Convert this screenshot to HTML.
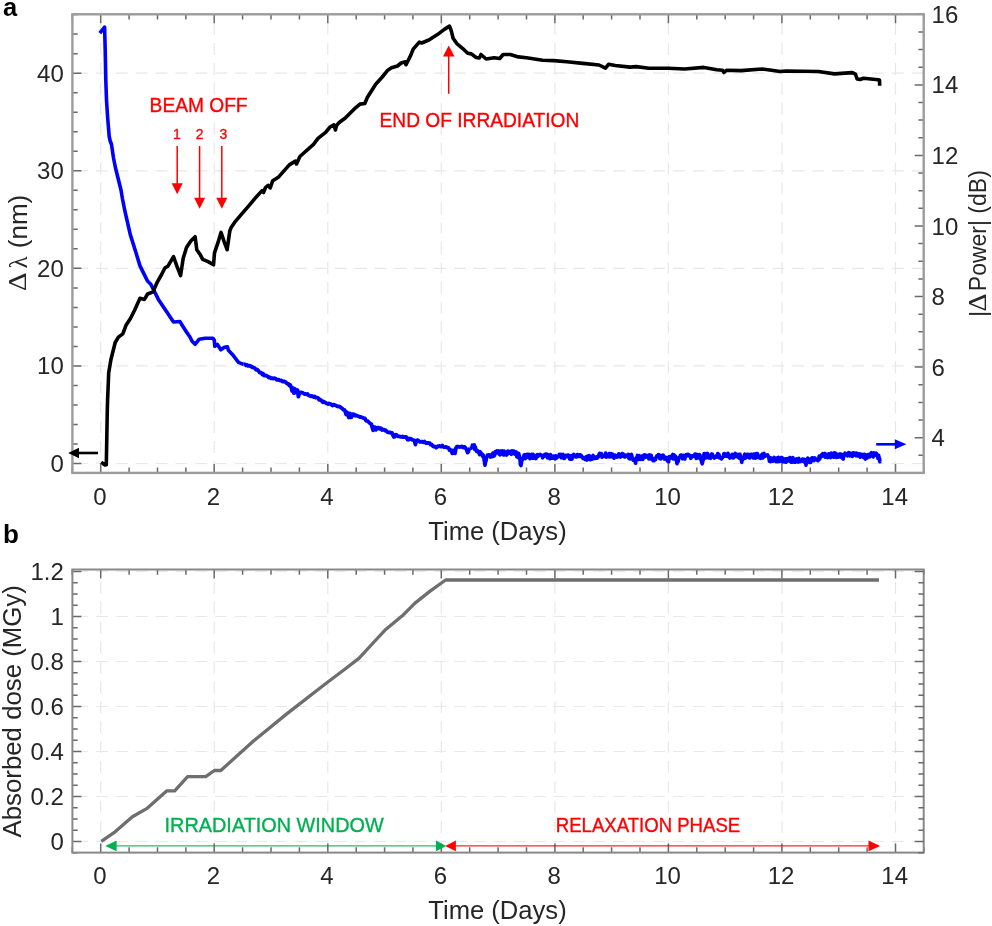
<!DOCTYPE html>
<html><head><meta charset="utf-8"><title>Figure</title>
<style>html,body{margin:0;padding:0;background:#fff;}svg{display:block;}</style>
</head><body>
<svg width="992" height="926" viewBox="0 0 992 926">
<rect width="992" height="926" fill="#fff"/>
<line x1="100.7" y1="472.9" x2="100.7" y2="14.3" stroke="#e8e8e8" stroke-width="1.2" stroke-dasharray="12 7.9"/>
<line x1="214.2" y1="472.9" x2="214.2" y2="14.3" stroke="#e8e8e8" stroke-width="1.2" stroke-dasharray="12 7.9"/>
<line x1="327.8" y1="472.9" x2="327.8" y2="14.3" stroke="#e8e8e8" stroke-width="1.2" stroke-dasharray="12 7.9"/>
<line x1="441.3" y1="472.9" x2="441.3" y2="14.3" stroke="#e8e8e8" stroke-width="1.2" stroke-dasharray="12 7.9"/>
<line x1="554.9" y1="472.9" x2="554.9" y2="14.3" stroke="#e8e8e8" stroke-width="1.2" stroke-dasharray="12 7.9"/>
<line x1="668.4" y1="472.9" x2="668.4" y2="14.3" stroke="#e8e8e8" stroke-width="1.2" stroke-dasharray="12 7.9"/>
<line x1="781.9" y1="472.9" x2="781.9" y2="14.3" stroke="#e8e8e8" stroke-width="1.2" stroke-dasharray="12 7.9"/>
<line x1="895.5" y1="472.9" x2="895.5" y2="14.3" stroke="#e8e8e8" stroke-width="1.2" stroke-dasharray="12 7.9"/>
<line x1="923.7" y1="463.5" x2="72.4" y2="463.5" stroke="#e8e8e8" stroke-width="1.2" stroke-dasharray="12 7.9"/>
<line x1="923.7" y1="365.9" x2="72.4" y2="365.9" stroke="#e8e8e8" stroke-width="1.2" stroke-dasharray="12 7.9"/>
<line x1="923.7" y1="268.3" x2="72.4" y2="268.3" stroke="#e8e8e8" stroke-width="1.2" stroke-dasharray="12 7.9"/>
<line x1="923.7" y1="170.8" x2="72.4" y2="170.8" stroke="#e8e8e8" stroke-width="1.2" stroke-dasharray="12 7.9"/>
<line x1="923.7" y1="73.2" x2="72.4" y2="73.2" stroke="#e8e8e8" stroke-width="1.2" stroke-dasharray="12 7.9"/>
<line x1="100.7" y1="852.6" x2="100.7" y2="569.5" stroke="#e8e8e8" stroke-width="1.2" stroke-dasharray="12 7.9"/>
<line x1="214.2" y1="852.6" x2="214.2" y2="569.5" stroke="#e8e8e8" stroke-width="1.2" stroke-dasharray="12 7.9"/>
<line x1="327.8" y1="852.6" x2="327.8" y2="569.5" stroke="#e8e8e8" stroke-width="1.2" stroke-dasharray="12 7.9"/>
<line x1="441.3" y1="852.6" x2="441.3" y2="569.5" stroke="#e8e8e8" stroke-width="1.2" stroke-dasharray="12 7.9"/>
<line x1="554.9" y1="852.6" x2="554.9" y2="569.5" stroke="#e8e8e8" stroke-width="1.2" stroke-dasharray="12 7.9"/>
<line x1="668.4" y1="852.6" x2="668.4" y2="569.5" stroke="#e8e8e8" stroke-width="1.2" stroke-dasharray="12 7.9"/>
<line x1="781.9" y1="852.6" x2="781.9" y2="569.5" stroke="#e8e8e8" stroke-width="1.2" stroke-dasharray="12 7.9"/>
<line x1="895.5" y1="852.6" x2="895.5" y2="569.5" stroke="#e8e8e8" stroke-width="1.2" stroke-dasharray="12 7.9"/>
<line x1="923.7" y1="841.5" x2="72.4" y2="841.5" stroke="#e8e8e8" stroke-width="1.2" stroke-dasharray="12 7.9"/>
<line x1="923.7" y1="796.5" x2="72.4" y2="796.5" stroke="#e8e8e8" stroke-width="1.2" stroke-dasharray="12 7.9"/>
<line x1="923.7" y1="751.5" x2="72.4" y2="751.5" stroke="#e8e8e8" stroke-width="1.2" stroke-dasharray="12 7.9"/>
<line x1="923.7" y1="706.5" x2="72.4" y2="706.5" stroke="#e8e8e8" stroke-width="1.2" stroke-dasharray="12 7.9"/>
<line x1="923.7" y1="661.5" x2="72.4" y2="661.5" stroke="#e8e8e8" stroke-width="1.2" stroke-dasharray="12 7.9"/>
<line x1="923.7" y1="616.5" x2="72.4" y2="616.5" stroke="#e8e8e8" stroke-width="1.2" stroke-dasharray="12 7.9"/>
<line x1="923.7" y1="571.5" x2="72.4" y2="571.5" stroke="#e8e8e8" stroke-width="1.2" stroke-dasharray="12 7.9"/>
<polyline points="99.8,33.2 104.6,27.2 105.2,50.0 105.8,80.0 106.5,100.0 107.6,117.0 109.2,136.5 110.2,141.0 111.5,144.5 113.5,158.0 115.5,168.0 118.5,180.0 121.0,190.0 122.5,199.0 124.9,211.0 130.3,234.6 135.7,251.8 140.0,265.9 143.7,273.4 147.5,281.0 150.8,284.2 153.0,288.6 158.4,299.4 167.0,312.3 173.5,322.0 180.0,321.5 182.0,325.1 186.0,331.2 190.1,337.2 192.1,341.3 195.1,344.3 199.2,339.2 205.2,338.2 212.8,338.2 214.3,340.2 214.8,346.3 217.3,344.3 220.8,349.8 224.4,347.3 227.4,346.8 228.4,350.3 232.4,354.4 238.5,362.4 243.5,364.4" fill="none" stroke="#0000ff" stroke-width="3.6" stroke-linejoin="round"/>
<polyline points="243.5,364.4 244.4,364.4 245.3,364.4 246.2,365.4 247.1,364.9 248.0,365.8 248.9,365.8 249.8,365.6 250.7,366.6 251.6,366.4 252.5,367.4 253.4,367.3 254.3,367.8 255.2,368.7 256.1,369.7 257.0,369.3 257.9,370.1 258.8,371.3 259.7,372.5 260.6,372.6 261.5,373.0 262.4,374.5 263.3,373.8 264.2,375.6 265.1,375.4 266.0,375.5 266.9,375.9 267.8,376.5 268.7,377.6 269.6,377.1 270.5,378.0 271.4,378.4 272.3,378.2 273.2,378.7 274.1,378.2 275.0,378.4 275.9,378.9 276.8,379.8 277.7,379.6 278.6,379.7 279.5,380.3 280.4,380.4 281.3,380.4 282.2,381.4 283.1,381.6 284.0,381.2 284.9,382.0 285.8,382.2 286.7,383.3 287.6,383.8 288.5,383.9 289.4,385.6 290.3,385.0 291.2,387.4 292.1,391.1 293.0,388.0 293.9,393.2 294.8,388.8 295.7,392.5 296.6,392.0 297.5,390.1 298.4,396.7 299.3,393.8 300.2,392.3 301.1,392.4 302.0,392.7 302.9,392.9 303.8,393.7 304.7,394.2 305.6,393.9 306.5,394.4 307.4,393.9 308.3,395.1 309.2,395.4 310.1,396.2 311.0,396.3 311.9,395.8 312.8,396.3 313.7,397.1 314.6,396.5 315.5,397.5 316.4,397.4 317.3,397.7 318.2,398.2 319.1,399.8 320.0,399.5 320.9,400.2 321.8,401.0 322.7,402.2 323.6,401.4 324.5,402.2 325.4,402.6 326.3,403.4 327.2,403.6 328.1,404.0 329.0,403.5 329.9,403.9 330.8,404.1 331.7,405.1 332.6,405.5 333.5,404.6 334.4,404.9 335.3,405.3 336.2,405.5 337.1,406.2 338.0,406.6 338.9,406.5 339.8,406.6 340.7,407.6 341.6,408.0 342.5,408.7 343.4,409.7 344.3,409.8 345.2,411.4 346.1,414.5 347.0,412.2 347.9,414.2 348.8,417.5 349.7,413.4 350.6,417.3 351.5,417.2 352.4,414.1 353.3,414.5 354.2,414.5 355.1,415.7 356.0,415.3 356.9,415.7 357.8,416.2 358.7,416.4 359.6,417.0 360.5,416.9 361.4,417.1 362.3,417.6 363.2,417.8 364.1,418.5 365.0,418.5 365.9,420.5 366.8,420.9 367.7,421.1 368.6,422.0 369.5,422.9 370.4,423.7 371.3,424.1 372.2,427.1 373.1,430.3 374.0,427.2 374.9,427.2 375.8,429.9 376.7,428.6 377.6,427.6 378.5,427.7 379.4,428.8 380.3,428.2 381.2,428.4 382.1,430.0 383.0,429.8 383.9,429.6 384.8,430.5 385.7,430.2 386.6,431.2 387.5,432.2 388.4,432.4 389.3,432.5 390.2,432.3 391.1,432.9 392.0,433.0 392.9,435.1 393.8,437.0 394.7,436.7 395.6,434.7 396.5,434.8 397.4,435.9 398.3,436.4 399.2,436.4 400.1,436.6 401.0,436.8 401.9,437.0 402.8,436.5 403.7,437.1 404.6,437.1 405.5,436.8 406.4,437.1 407.3,439.4 408.2,439.8 409.1,438.6 410.0,439.2 410.9,438.6 411.8,439.6 412.7,439.9 413.6,440.1 414.5,440.8 415.4,444.6 416.3,441.1 417.2,440.1 418.1,440.4 419.0,441.3 419.9,441.8 420.8,441.9 421.7,441.6 422.6,442.0 423.5,442.3 424.4,441.5 425.3,442.5 426.2,443.0 427.1,442.9 428.0,443.1 428.9,443.0 429.8,443.2 430.7,444.6 431.6,444.5 432.5,445.7 433.4,446.5 434.3,446.3 435.2,446.9 436.1,447.7 437.0,447.2 437.9,446.2 438.8,446.0 439.7,445.8 440.6,446.7 441.5,446.4 442.4,445.6 443.3,446.8 444.2,447.2 445.1,447.0 446.0,446.8 446.9,447.5 447.8,447.6 448.7,448.2 449.6,450.3 450.5,450.5 451.4,450.3 452.3,453.4 453.2,450.5 454.1,450.2 455.0,453.4 455.9,448.3 456.8,446.7 457.7,446.7 458.6,446.6 459.5,447.1 460.4,446.7 461.3,446.9 462.2,446.5 463.1,447.6 464.0,446.8 464.9,447.1 465.8,448.3 466.7,450.0 467.6,452.6 468.5,451.6 467.8,450.4 470.0,448.5" fill="none" stroke="#0000ff" stroke-width="3.8" stroke-linejoin="round"/>
<polyline points="470.0,448.5 470.6,448.3 471.2,448.2 471.8,447.9 472.4,445.2 473.0,447.1 473.6,445.6 474.2,444.8 474.8,449.5 475.4,447.1 476.0,449.4 476.6,451.4 477.2,451.3 477.8,450.9 478.4,452.4 479.0,453.0 479.6,454.6 480.2,451.7 480.8,454.4 481.4,453.3 482.0,453.9 482.6,456.4 483.2,455.0 483.8,458.0 484.4,461.7 485.0,465.2 485.6,461.9 486.2,460.1 486.8,456.8 487.4,455.1 488.0,456.0 488.6,454.8 489.2,455.2 489.8,454.9 490.4,457.1 491.0,455.7 491.6,456.4 492.2,456.6 492.8,453.0 493.4,454.3 494.0,456.1 494.6,455.4 495.2,451.7 495.8,451.5 496.4,452.9 497.0,450.9 497.6,451.7 498.2,450.8 498.8,453.7 499.4,454.3 500.0,454.8 500.6,451.0 501.2,453.8 501.8,453.5 502.4,450.9 503.0,454.5 503.6,454.9 504.2,451.1 504.8,454.8 505.4,452.0 506.0,452.5 506.6,455.1 507.2,454.4 507.8,451.1 508.4,452.5 509.0,453.0 509.6,452.2 510.2,451.5 510.8,452.2 511.4,454.3 512.0,450.8 512.6,453.5 513.2,453.0 513.8,451.0 514.4,452.6 515.0,454.1 515.6,453.9 516.2,451.9 516.8,456.8 517.4,456.1 518.0,457.4 518.6,453.2 519.2,455.2 519.8,457.5 520.4,464.6 521.0,465.5 521.6,461.6 522.2,459.9 522.8,459.2 523.4,457.8 524.0,455.1 524.6,454.7 525.2,458.6 525.8,456.9 526.4,457.5 527.0,454.4 527.6,454.3 528.2,457.4 528.8,456.1 529.4,454.4 530.0,458.7 530.6,457.2 531.2,458.0 531.8,454.4 532.4,458.3 533.0,454.3 533.6,458.3 534.2,456.3 534.8,455.7 535.4,456.8 536.0,458.6 536.6,455.3 537.2,454.6 537.8,456.6 538.4,455.2 539.0,454.5 539.6,454.8 540.2,454.3 540.8,455.0 541.4,455.6 542.0,455.5 542.6,457.8 543.2,455.4 543.8,456.5 544.4,454.9 545.0,455.7 545.6,454.1 546.2,455.3 546.8,454.1 547.4,457.7 548.0,456.8 548.6,454.9 549.2,456.4 549.8,458.7 550.4,454.5 551.0,458.1 551.6,456.2 552.2,456.5 552.8,458.2 553.4,456.0 554.0,456.5 554.6,457.4 555.2,458.9 555.8,455.7 556.4,458.2 557.0,457.5 557.6,457.2 558.2,456.0 558.8,455.7 559.4,454.3 560.0,454.6 560.6,454.4 561.2,457.7 561.8,455.3 562.4,454.9 563.0,454.5 563.6,458.3 564.2,458.5 564.8,457.5 565.4,455.5 566.0,455.4 566.6,455.6 567.2,456.5 567.8,455.0 568.4,456.4 569.0,455.5 569.6,459.0 570.2,459.1 570.8,457.0 571.4,455.5 572.0,459.1 572.6,455.9 573.2,456.1 573.8,454.4 574.4,456.3 575.0,456.7 575.6,456.9 576.2,455.4 576.8,456.9 577.4,454.5 578.0,455.8 578.6,454.9 579.2,456.5 579.8,454.7 580.4,454.7 581.0,456.1 581.6,455.8 582.2,457.6 582.8,457.4 583.4,458.6 584.0,458.2 584.6,458.5 585.2,459.4 585.8,457.0 586.4,456.8 587.0,460.1 587.6,456.0 588.2,458.9 588.8,458.6 589.4,455.7 590.0,459.7 590.6,459.8 591.2,458.3 591.8,458.7 592.4,459.0 593.0,455.4 593.6,457.2 594.2,457.0 594.8,458.5 595.4,458.2 596.0,458.1 596.6,456.8 597.2,458.2 597.8,457.0 598.4,456.9 599.0,454.4 599.6,453.3 600.2,453.7 600.8,454.8 601.4,453.6 602.0,457.2 602.6,455.8 603.2,456.2 603.8,456.2 604.4,456.5 605.0,455.5 605.6,453.1 606.2,457.1 606.8,456.9 607.4,455.7 608.0,455.8 608.6,456.5 609.2,453.5 609.8,456.9 610.4,454.5 611.0,453.6 611.6,454.6 612.2,456.9 612.8,454.3 613.4,457.0 614.0,458.2 614.6,455.8 615.2,455.2 615.8,455.7 616.4,456.7 617.0,457.2 617.6,456.4 618.2,456.6 618.8,453.8 619.4,454.1 620.0,454.7 620.6,457.1 621.2,454.9 621.8,456.3 622.4,453.5 623.0,453.8 623.6,454.8 624.2,456.8 624.8,457.0 625.4,456.9 626.0,455.1 626.6,456.2 627.2,456.0 627.8,456.1 628.4,454.4 629.0,458.4 629.6,455.0 630.2,458.9 630.8,458.8 631.4,454.2 632.0,456.5 632.6,458.4 633.2,460.1 633.8,459.3 634.4,460.3 635.0,461.2 635.6,463.2 636.2,457.8 636.8,457.9 637.4,455.4 638.0,457.4 638.6,459.6 639.2,455.6 639.8,459.1 640.4,457.5 641.0,459.4 641.6,458.5 642.2,456.1 642.8,459.4 643.4,457.3 644.0,455.0 644.6,454.9 645.2,457.3 645.8,457.1 646.4,456.3 647.0,455.5 647.6,456.5 648.2,456.3 648.8,458.9 649.4,454.7 650.0,458.4 650.6,458.8 651.2,455.2 651.8,459.2 652.4,458.1 653.0,460.7 653.6,459.6 654.2,460.7 654.8,458.8 655.4,459.8 656.0,457.4 656.6,456.2 657.2,456.5 657.8,455.8 658.4,454.6 659.0,454.8 659.6,458.5 660.2,455.7 660.8,459.0 661.4,455.5 662.0,455.6 662.6,456.9 663.2,455.2 663.8,456.2 664.4,459.1 665.0,458.7 665.6,458.4 666.2,457.5 666.8,458.9 667.4,461.0 668.0,461.0 668.6,461.9 669.2,456.5 669.8,458.0 670.4,456.6 671.0,458.1 671.6,457.5 672.2,455.7 672.8,454.5 673.4,458.9 674.0,454.9 674.6,456.7 675.2,456.0 675.8,456.7 676.4,460.7 677.0,463.7 677.6,461.3 678.2,461.5 678.8,457.9 679.4,457.4 680.0,456.3 680.6,455.1 681.2,455.1 681.8,455.3 682.4,458.7 683.0,456.7 683.6,455.3 684.2,458.7 684.8,459.1 685.4,456.3 686.0,454.8 686.6,455.0 687.2,454.5 687.8,455.7 688.4,454.4 689.0,455.1 689.6,455.2 690.2,456.7 690.8,458.3 691.4,457.6 692.0,455.9 692.6,455.9 693.2,456.4 693.8,455.6 694.4,455.4 695.0,454.0 695.6,455.1 696.2,458.5 696.8,454.3 697.4,456.1 698.0,456.7 698.6,457.9 699.2,454.6 699.8,454.9 700.4,456.8 701.0,459.7 701.6,462.0 702.2,463.8 702.8,461.2 703.4,459.2 704.0,453.6 704.6,453.6 705.2,457.0 705.8,457.9 706.4,455.8 707.0,456.4 707.6,453.4 708.2,455.4 708.8,458.0 709.4,457.5 710.0,457.7 710.6,458.3 711.2,454.6 711.8,453.9 712.4,454.1 713.0,456.0 713.6,456.8 714.2,458.1 714.8,457.0 715.4,456.6 716.0,457.2 716.6,455.6 717.2,456.1 717.8,453.5 718.4,457.2 719.0,454.5 719.6,457.9 720.2,457.5 720.8,457.8 721.4,458.9 722.0,457.6 722.6,457.5 723.2,456.8 723.8,453.8 724.4,453.6 725.0,455.9 725.6,456.2 726.2,455.2 726.8,454.4 727.4,456.3 728.0,453.3 728.6,454.8 729.2,455.6 729.8,458.1 730.4,456.5 731.0,457.7 731.6,455.6 732.2,454.4 732.8,454.5 733.4,458.0 734.0,456.8 734.6,454.8 735.2,453.3 735.8,455.7 736.4,456.6 737.0,455.3 737.6,454.5 738.2,456.6 738.8,457.9 739.4,454.4 740.0,454.3 740.6,457.6 741.2,459.8 741.8,462.3 742.4,458.1 743.0,459.3 743.6,457.2 744.2,455.7 744.8,454.2 745.4,458.1 746.0,454.8 746.6,457.3 747.2,454.4 747.8,454.3 748.4,457.0 749.0,454.7 749.6,458.0 750.2,455.7 750.8,454.2 751.4,454.3 752.0,455.3 752.6,456.6 753.2,458.0 753.8,454.0 754.4,455.2 755.0,454.3 755.6,458.1 756.2,454.0 756.8,453.5 757.4,453.6 758.0,455.2 758.6,457.8 759.2,457.7 759.8,456.9 760.4,458.3 761.0,457.9 761.6,454.9 762.2,454.2 762.8,458.0 763.4,457.0 764.0,453.4 764.6,456.6 765.2,455.2 765.8,455.2 766.4,455.3 767.0,455.1 767.6,454.8 768.2,456.7 768.8,457.6 769.4,461.2 770.0,457.6 770.6,461.8 771.2,458.1 771.8,458.8 772.4,461.2 773.0,461.2 773.6,459.3 774.2,457.4 774.8,459.5 775.4,459.0 776.0,461.7 776.6,458.1 777.2,459.0 777.8,461.7 778.4,457.4 779.0,459.3 779.6,461.3 780.2,461.1 780.8,457.5 781.4,457.5 782.0,457.6 782.6,461.9 783.2,458.6 783.8,461.1 784.4,461.9 785.0,459.1 785.6,458.8 786.2,462.2 786.8,460.5 787.4,458.7 788.0,461.0 788.6,459.0 789.2,458.9 789.8,457.5 790.4,461.3 791.0,462.1 791.6,460.7 792.2,462.2 792.8,457.6 793.4,458.7 794.0,459.9 794.6,462.3 795.2,462.3 795.8,459.4 796.4,458.8 797.0,459.6 797.6,460.0 798.2,462.1 798.8,458.4 799.4,461.5 800.0,461.2 800.6,461.6 801.2,461.4 801.8,460.5 802.4,459.1 803.0,459.1 803.6,459.3 804.2,461.8 804.8,459.5 805.4,461.3 806.0,465.3 806.6,461.5 807.2,459.4 807.8,458.1 808.4,460.3 809.0,459.1 809.6,462.4 810.2,461.9 810.8,462.3 811.4,458.6 812.0,457.7 812.6,457.7 813.2,459.6 813.8,460.6 814.4,459.2 815.0,458.0 815.6,458.9 816.2,459.8 816.8,460.0 817.4,460.3 818.0,460.7 818.6,459.3 819.2,456.0 819.8,459.0 820.4,455.7 821.0,456.5 821.6,454.9 822.2,456.4 822.8,453.7 823.4,453.9 824.0,453.9 824.6,453.4 825.2,457.1 825.8,455.6 826.4,454.3 827.0,454.6 827.6,457.6 828.2,455.2 828.8,453.8 829.4,456.7 830.0,455.9 830.6,457.6 831.2,453.1 831.8,455.0 832.4,456.7 833.0,456.8 833.6,457.2 834.2,452.8 834.8,454.1 835.4,453.2 836.0,453.5 836.6,457.5 837.2,455.5 837.8,457.2 838.4,454.4 839.0,456.9 839.6,454.8 840.2,453.9 840.8,456.5 841.4,457.3 842.0,454.4 842.6,458.5 843.2,459.1 843.8,455.5 844.4,454.7 845.0,453.2 845.6,453.6 846.2,453.8 846.8,455.5 847.4,455.8 848.0,453.5 848.6,452.6 849.2,454.1 849.8,455.9 850.4,453.4 851.0,454.1 851.6,453.5 852.2,456.5 852.8,455.2 853.4,452.8 854.0,453.0 854.6,454.5 855.2,455.3 855.8,455.7 856.4,453.0 857.0,453.3 857.6,456.0 858.2,454.5 858.8,453.9 859.4,454.0 860.0,457.3 860.6,454.1 861.2,455.3 861.8,454.3 862.4,454.6 863.0,456.8 863.6,457.5 864.2,454.3 864.8,454.5 865.4,459.1 866.0,458.5 866.6,455.5 867.2,458.0 867.8,454.6 868.4,456.6 869.0,454.5 869.6,456.9 870.2,454.8 870.8,453.3 871.4,452.6 872.0,455.3 872.6,455.7 873.2,457.0 873.8,452.9 874.4,455.6 875.0,454.4 875.6,455.0 876.2,453.2 876.8,453.9 877.4,455.7 878.0,458.5 878.6,455.3 879.2,458.0 879.8,461.8 879.5,458.5 880.0,461.5" fill="none" stroke="#0000ff" stroke-width="3.6" stroke-linejoin="round"/>
<polyline points="101.2,462.3 105.0,465.0 106.3,464.7 107.3,410.0 107.6,400.0 108.7,372.8 110.9,359.8 115.2,342.5 118.4,337.1 122.8,333.9 126.0,325.3 130.3,318.8 134.6,310.2 140.0,298.3 144.4,299.4 147.6,294.0 153.0,291.8 157.3,282.1 161.6,274.5 164.9,268.0 168.1,265.9 173.5,256.6 176.8,265.9 180.6,275.6 183.2,258.3 186.5,247.5 190.8,241.0 195.1,236.7 196.8,249.7 200.5,255.1 202.7,259.4 208.1,261.6 213.5,264.8 214.5,252.9 217.8,243.2 221.0,232.4 224.3,242.1 227.1,249.7 229.8,231.0 231.0,227.8 235.4,221.3 241.8,213.8 249.4,205.1 254.8,198.6 262.1,190.6 263.5,192.5 265.5,187.5 268.1,185.3 270.2,188.0 272.7,180.7 278.7,176.9 289.3,164.9 295.4,161.1 296.5,164.0 299.9,156.5 313.5,144.4 318.0,138.4 325.6,132.3 330.1,127.0 333.9,124.8 335.4,130.0 336.5,125.5 339.2,122.5 345.3,118.0 354.3,108.9 360.0,104.1 364.8,103.5 367.3,97.5 375.7,84.2 381.8,77.5 387.8,70.2 391.5,67.8 397.5,66.0 401.1,63.0 405.4,61.8 406.0,64.8 408.4,60.0 410.8,55.1 413.2,49.1 419.3,42.1 421.7,43.0 428.9,40.0 437.4,34.6 444.7,29.1 449.5,26.1 451.3,30.9 453.1,38.2 456.8,43.6 464.0,49.7 467.7,53.3 471.3,53.9 476.1,57.5 479.3,58.0 481.0,54.5 486.1,59.0 494.2,57.7 499.8,58.5 503.1,54.5 510.3,54.5 518.4,56.9 526.5,57.7 542.6,60.2 553.9,60.6 566.8,61.8 582.9,63.4 599.0,65.0 605.5,68.2 608.7,64.2 615.2,65.5 630.0,67.1 636.1,66.6 649.0,68.2 668.4,68.2 684.5,69.0 703.9,67.4 716.8,69.7 722.5,70.2 724.0,72.5 726.5,70.2 741.0,70.6 761.9,69.0 771.6,70.2 780.0,71.5 786.1,71.0 802.0,71.2 818.4,71.5 834.5,73.9 852.3,72.6 855.5,74.2 857.1,79.0 860.0,79.5 863.5,78.2 878.1,79.8 879.5,80.0 879.7,85.8" fill="none" stroke="#000" stroke-width="3.6" stroke-linejoin="round"/>
<polyline points="101.3,841.3 115.1,831.8 132.4,816.7 147.5,808.1 166.9,790.8 174.7,790.8 187.6,776.6 205.7,776.6 214.4,770.5 220.8,770.5 253.2,741.2 287.7,713.1 326.5,683.0 343.8,670.0 358.9,658.4 374.0,642.0 384.8,630.3 402.0,616.1 415.0,603.1 430.1,591.1 445.6,580.0 879.0,580.0" fill="none" stroke="#6e6e6e" stroke-width="3.3" stroke-linejoin="round"/>
<path d="M72.3 472.9v-5.3M72.3 14.3v5.3M100.7 472.9v-9M100.7 14.3v9M129.1 472.9v-5.3M129.1 14.3v5.3M157.5 472.9v-5.3M157.5 14.3v5.3M185.9 472.9v-5.3M185.9 14.3v5.3M214.2 472.9v-9M214.2 14.3v9M242.6 472.9v-5.3M242.6 14.3v5.3M271.0 472.9v-5.3M271.0 14.3v5.3M299.4 472.9v-5.3M299.4 14.3v5.3M327.8 472.9v-9M327.8 14.3v9M356.2 472.9v-5.3M356.2 14.3v5.3M384.6 472.9v-5.3M384.6 14.3v5.3M412.9 472.9v-5.3M412.9 14.3v5.3M441.3 472.9v-9M441.3 14.3v9M469.7 472.9v-5.3M469.7 14.3v5.3M498.1 472.9v-5.3M498.1 14.3v5.3M526.5 472.9v-5.3M526.5 14.3v5.3M554.9 472.9v-9M554.9 14.3v9M583.2 472.9v-5.3M583.2 14.3v5.3M611.6 472.9v-5.3M611.6 14.3v5.3M640.0 472.9v-5.3M640.0 14.3v5.3M668.4 472.9v-9M668.4 14.3v9M696.8 472.9v-5.3M696.8 14.3v5.3M725.2 472.9v-5.3M725.2 14.3v5.3M753.6 472.9v-5.3M753.6 14.3v5.3M781.9 472.9v-9M781.9 14.3v9M810.3 472.9v-5.3M810.3 14.3v5.3M838.7 472.9v-5.3M838.7 14.3v5.3M867.1 472.9v-5.3M867.1 14.3v5.3M895.5 472.9v-9M895.5 14.3v9M923.9 472.9v-5.3M923.9 14.3v5.3M72.4 463.5h9M72.4 365.9h9M72.4 268.3h9M72.4 170.8h9M72.4 73.2h9M72.4 444.0h5.3M72.4 424.5h5.3M72.4 405.0h5.3M72.4 385.4h5.3M72.4 346.4h5.3M72.4 326.9h5.3M72.4 307.4h5.3M72.4 287.9h5.3M72.4 248.8h5.3M72.4 229.3h5.3M72.4 209.8h5.3M72.4 190.3h5.3M72.4 151.2h5.3M72.4 131.7h5.3M72.4 112.2h5.3M72.4 92.7h5.3M72.4 53.7h5.3M72.4 34.1h5.3M72.4 14.6h5.3M923.7 437.7h-9M923.7 367.1h-9M923.7 296.5h-9M923.7 226.0h-9M923.7 155.4h-9M923.7 84.9h-9M923.7 14.3h-9M923.7 472.9h-5.3M923.7 455.3h-5.3M923.7 420.0h-5.3M923.7 402.4h-5.3M923.7 384.7h-5.3M923.7 349.5h-5.3M923.7 331.8h-5.3M923.7 314.2h-5.3M923.7 278.9h-5.3M923.7 261.3h-5.3M923.7 243.6h-5.3M923.7 208.3h-5.3M923.7 190.7h-5.3M923.7 173.1h-5.3M923.7 137.8h-5.3M923.7 120.1h-5.3M923.7 102.5h-5.3M923.7 67.2h-5.3M923.7 49.6h-5.3M923.7 31.9h-5.3" stroke="#6a6a6a" stroke-width="1.5" fill="none"/>
<rect x="72.4" y="14.3" width="851.3" height="458.6" fill="none" stroke="#9c9c9c" stroke-width="2.4"/>
<path d="M72.3 852.6v-5.3M72.3 569.5v5.3M100.7 852.6v-9M100.7 569.5v9M129.1 852.6v-5.3M129.1 569.5v5.3M157.5 852.6v-5.3M157.5 569.5v5.3M185.9 852.6v-5.3M185.9 569.5v5.3M214.2 852.6v-9M214.2 569.5v9M242.6 852.6v-5.3M242.6 569.5v5.3M271.0 852.6v-5.3M271.0 569.5v5.3M299.4 852.6v-5.3M299.4 569.5v5.3M327.8 852.6v-9M327.8 569.5v9M356.2 852.6v-5.3M356.2 569.5v5.3M384.6 852.6v-5.3M384.6 569.5v5.3M412.9 852.6v-5.3M412.9 569.5v5.3M441.3 852.6v-9M441.3 569.5v9M469.7 852.6v-5.3M469.7 569.5v5.3M498.1 852.6v-5.3M498.1 569.5v5.3M526.5 852.6v-5.3M526.5 569.5v5.3M554.9 852.6v-9M554.9 569.5v9M583.2 852.6v-5.3M583.2 569.5v5.3M611.6 852.6v-5.3M611.6 569.5v5.3M640.0 852.6v-5.3M640.0 569.5v5.3M668.4 852.6v-9M668.4 569.5v9M696.8 852.6v-5.3M696.8 569.5v5.3M725.2 852.6v-5.3M725.2 569.5v5.3M753.6 852.6v-5.3M753.6 569.5v5.3M781.9 852.6v-9M781.9 569.5v9M810.3 852.6v-5.3M810.3 569.5v5.3M838.7 852.6v-5.3M838.7 569.5v5.3M867.1 852.6v-5.3M867.1 569.5v5.3M895.5 852.6v-9M895.5 569.5v9M923.9 852.6v-5.3M923.9 569.5v5.3M72.4 841.5h9M72.4 796.5h9M72.4 751.5h9M72.4 706.5h9M72.4 661.5h9M72.4 616.5h9M72.4 571.5h9M72.4 852.8h5.3M72.4 830.2h5.3M72.4 819.0h5.3M72.4 807.8h5.3M72.4 785.2h5.3M72.4 774.0h5.3M72.4 762.8h5.3M72.4 740.2h5.3M72.4 729.0h5.3M72.4 717.8h5.3M72.4 695.2h5.3M72.4 684.0h5.3M72.4 672.8h5.3M72.4 650.2h5.3M72.4 639.0h5.3M72.4 627.8h5.3M72.4 605.2h5.3M72.4 594.0h5.3M72.4 582.8h5.3" stroke="#6a6a6a" stroke-width="1.5" fill="none"/>
<rect x="72.4" y="569.5" width="851.3" height="283.1" fill="none" stroke="#888" stroke-width="2.0"/>
<path d="M923.7 841.5h-9M923.7 796.5h-9M923.7 751.5h-9M923.7 706.5h-9M923.7 661.5h-9M923.7 616.5h-9M923.7 571.5h-9M923.7 852.8h-5.3M923.7 830.2h-5.3M923.7 819.0h-5.3M923.7 807.8h-5.3M923.7 785.2h-5.3M923.7 774.0h-5.3M923.7 762.8h-5.3M923.7 740.2h-5.3M923.7 729.0h-5.3M923.7 717.8h-5.3M923.7 695.2h-5.3M923.7 684.0h-5.3M923.7 672.8h-5.3M923.7 650.2h-5.3M923.7 639.0h-5.3M923.7 627.8h-5.3M923.7 605.2h-5.3M923.7 594.0h-5.3M923.7 582.8h-5.3" stroke="#6a6a6a" stroke-width="1.5" fill="none"/>
<line x1="177.2" y1="146" x2="177.2" y2="184.2" stroke="#ff0000" stroke-width="1.5"/>
<polygon points="171.7,183.2 182.7,183.2 177.2,194.2" fill="#ff0000"/>
<line x1="199.6" y1="146" x2="199.6" y2="198.8" stroke="#ff0000" stroke-width="1.5"/>
<polygon points="194.1,197.8 205.1,197.8 199.6,208.8" fill="#ff0000"/>
<line x1="221.8" y1="146" x2="221.8" y2="198.8" stroke="#ff0000" stroke-width="1.5"/>
<polygon points="216.3,197.8 227.3,197.8 221.8,208.8" fill="#ff0000"/>
<line x1="448.7" y1="93.8" x2="448.7" y2="55" stroke="#ff0000" stroke-width="1.5"/>
<polygon points="443,56.6 454.5,56.6 448.7,45.5" fill="#ff0000"/>
<line x1="98" y1="453" x2="77" y2="453" stroke="#000" stroke-width="2.6"/>
<polygon points="68.2,453 79,447.7 79,458.3" fill="#000"/>
<line x1="876.2" y1="444.3" x2="896" y2="444.3" stroke="#0000ff" stroke-width="2.6"/>
<polygon points="906.4,444.3 894.8,439.3 894.8,449.3" fill="#0000ff"/>
<line x1="114" y1="845.9" x2="439" y2="845.9" stroke="#00b050" stroke-width="1.3" opacity="0.85"/>
<polygon points="105.3,845.9 116.6,840.5 116.6,851.3" fill="#00b050"/>
<polygon points="446.2,845.9 436,840.5 436,851.3" fill="#00b050"/>
<line x1="453" y1="845.9" x2="871" y2="845.9" stroke="#ff0000" stroke-width="1.3" opacity="0.85"/>
<polygon points="445.2,845.9 455.9,840.5 455.9,851.3" fill="#ff0000"/>
<polygon points="880.1,845.9 868.5,840.5 868.5,851.3" fill="#ff0000"/>
<text x="99.9" y="504.6" font-family="'Liberation Sans', Arial, sans-serif" font-size="24" fill="#262626" text-anchor="middle" >0</text>
<text x="99.9" y="884.4" font-family="'Liberation Sans', Arial, sans-serif" font-size="24" fill="#262626" text-anchor="middle" >0</text>
<text x="213.4" y="504.6" font-family="'Liberation Sans', Arial, sans-serif" font-size="24" fill="#262626" text-anchor="middle" >2</text>
<text x="213.4" y="884.4" font-family="'Liberation Sans', Arial, sans-serif" font-size="24" fill="#262626" text-anchor="middle" >2</text>
<text x="327.0" y="504.6" font-family="'Liberation Sans', Arial, sans-serif" font-size="24" fill="#262626" text-anchor="middle" >4</text>
<text x="327.0" y="884.4" font-family="'Liberation Sans', Arial, sans-serif" font-size="24" fill="#262626" text-anchor="middle" >4</text>
<text x="440.5" y="504.6" font-family="'Liberation Sans', Arial, sans-serif" font-size="24" fill="#262626" text-anchor="middle" >6</text>
<text x="440.5" y="884.4" font-family="'Liberation Sans', Arial, sans-serif" font-size="24" fill="#262626" text-anchor="middle" >6</text>
<text x="554.1" y="504.6" font-family="'Liberation Sans', Arial, sans-serif" font-size="24" fill="#262626" text-anchor="middle" >8</text>
<text x="554.1" y="884.4" font-family="'Liberation Sans', Arial, sans-serif" font-size="24" fill="#262626" text-anchor="middle" >8</text>
<text x="667.6" y="504.6" font-family="'Liberation Sans', Arial, sans-serif" font-size="24" fill="#262626" text-anchor="middle" >10</text>
<text x="667.6" y="884.4" font-family="'Liberation Sans', Arial, sans-serif" font-size="24" fill="#262626" text-anchor="middle" >10</text>
<text x="781.1" y="504.6" font-family="'Liberation Sans', Arial, sans-serif" font-size="24" fill="#262626" text-anchor="middle" >12</text>
<text x="781.1" y="884.4" font-family="'Liberation Sans', Arial, sans-serif" font-size="24" fill="#262626" text-anchor="middle" >12</text>
<text x="894.7" y="504.6" font-family="'Liberation Sans', Arial, sans-serif" font-size="24" fill="#262626" text-anchor="middle" >14</text>
<text x="894.7" y="884.4" font-family="'Liberation Sans', Arial, sans-serif" font-size="24" fill="#262626" text-anchor="middle" >14</text>
<text x="63.8" y="472.0" font-family="'Liberation Sans', Arial, sans-serif" font-size="24" fill="#262626" text-anchor="end" >0</text>
<text x="63.8" y="374.4" font-family="'Liberation Sans', Arial, sans-serif" font-size="24" fill="#262626" text-anchor="end" >10</text>
<text x="63.8" y="276.8" font-family="'Liberation Sans', Arial, sans-serif" font-size="24" fill="#262626" text-anchor="end" >20</text>
<text x="63.8" y="179.3" font-family="'Liberation Sans', Arial, sans-serif" font-size="24" fill="#262626" text-anchor="end" >30</text>
<text x="63.8" y="81.7" font-family="'Liberation Sans', Arial, sans-serif" font-size="24" fill="#262626" text-anchor="end" >40</text>
<text x="931.6" y="446.2" font-family="'Liberation Sans', Arial, sans-serif" font-size="24" fill="#262626" text-anchor="start" >4</text>
<text x="931.6" y="375.6" font-family="'Liberation Sans', Arial, sans-serif" font-size="24" fill="#262626" text-anchor="start" >6</text>
<text x="931.6" y="305.0" font-family="'Liberation Sans', Arial, sans-serif" font-size="24" fill="#262626" text-anchor="start" >8</text>
<text x="931.6" y="234.5" font-family="'Liberation Sans', Arial, sans-serif" font-size="24" fill="#262626" text-anchor="start" >10</text>
<text x="931.6" y="163.9" font-family="'Liberation Sans', Arial, sans-serif" font-size="24" fill="#262626" text-anchor="start" >12</text>
<text x="931.6" y="93.4" font-family="'Liberation Sans', Arial, sans-serif" font-size="24" fill="#262626" text-anchor="start" >14</text>
<text x="931.6" y="22.8" font-family="'Liberation Sans', Arial, sans-serif" font-size="24" fill="#262626" text-anchor="start" >16</text>
<text x="63.8" y="850.0" font-family="'Liberation Sans', Arial, sans-serif" font-size="24" fill="#262626" text-anchor="end" >0</text>
<text x="63.8" y="805.0" font-family="'Liberation Sans', Arial, sans-serif" font-size="24" fill="#262626" text-anchor="end" >0.2</text>
<text x="63.8" y="760.0" font-family="'Liberation Sans', Arial, sans-serif" font-size="24" fill="#262626" text-anchor="end" >0.4</text>
<text x="63.8" y="715.0" font-family="'Liberation Sans', Arial, sans-serif" font-size="24" fill="#262626" text-anchor="end" >0.6</text>
<text x="63.8" y="670.0" font-family="'Liberation Sans', Arial, sans-serif" font-size="24" fill="#262626" text-anchor="end" >0.8</text>
<text x="63.8" y="625.0" font-family="'Liberation Sans', Arial, sans-serif" font-size="24" fill="#262626" text-anchor="end" >1</text>
<text x="63.8" y="580.0" font-family="'Liberation Sans', Arial, sans-serif" font-size="24" fill="#262626" text-anchor="end" >1.2</text>
<text x="497.5" y="539.6" font-family="'Liberation Sans', Arial, sans-serif" font-size="25.6" fill="#262626" text-anchor="middle" >Time (Days)</text>
<text x="497.5" y="919.2" font-family="'Liberation Sans', Arial, sans-serif" font-size="25.6" fill="#262626" text-anchor="middle" >Time (Days)</text>
<text transform="translate(26.4,291.2) rotate(-90) scale(1.2,1)" font-family="'Liberation Serif', 'Times New Roman', serif" font-size="24.5" fill="#262626">Δ</text>
<text transform="translate(26.6,268.6) rotate(-90)" font-family="'Liberation Serif', 'Times New Roman', serif" font-size="25" fill="#262626">λ</text>
<text transform="translate(26.7,194.8) rotate(-90)" font-family="'Liberation Sans', Arial, sans-serif" font-size="26" fill="#262626" text-anchor="end">(nm)</text>
<text transform="translate(985.6,317.0) rotate(-90)" font-family="'Liberation Sans', Arial, sans-serif" font-size="24" fill="#262626">|</text>
<text transform="translate(985.6,311.6) rotate(-90) scale(1.12,1)" font-family="'Liberation Serif', 'Times New Roman', serif" font-size="25" fill="#262626">Δ</text>
<text transform="translate(985.6,170.2) rotate(-90)" font-family="'Liberation Sans', Arial, sans-serif" font-size="23" fill="#262626" text-anchor="end">Power| (dB)</text>
<text transform="translate(20.6,711.3) rotate(-90)" font-family="'Liberation Sans', Arial, sans-serif" font-size="25.8" fill="#262626" text-anchor="middle">Absorbed dose (MGy)</text>
<text x="3" y="15.6" font-family="'Liberation Sans', Arial, sans-serif" font-size="25.5" font-weight="bold" fill="#000">a</text>
<text x="3" y="542.8" font-family="'Liberation Sans', Arial, sans-serif" font-size="26" font-weight="bold" fill="#000">b</text>
<text x="149.6" y="112.4" font-family="'Liberation Sans', Arial, sans-serif" font-size="20.5" fill="#ff0000" stroke="#ff0000" stroke-width="0.35" textLength="98.0" lengthAdjust="spacingAndGlyphs">BEAM OFF</text>
<text x="379.6" y="127.1" font-family="'Liberation Sans', Arial, sans-serif" font-size="20.5" fill="#ff0000" stroke="#ff0000" stroke-width="0.35" textLength="199.7" lengthAdjust="spacingAndGlyphs">END OF IRRADIATION</text>
<text x="164.6" y="832.4" font-family="'Liberation Sans', Arial, sans-serif" font-size="20.5" fill="#00b050" stroke="#00b050" stroke-width="0.35" textLength="219.1" lengthAdjust="spacingAndGlyphs">IRRADIATION WINDOW</text>
<text x="555.8" y="831.9" font-family="'Liberation Sans', Arial, sans-serif" font-size="20.5" fill="#ff0000" stroke="#ff0000" stroke-width="0.35" textLength="184.4" lengthAdjust="spacingAndGlyphs">RELAXATION PHASE</text>
<text x="177.0" y="138.6" font-family="'Liberation Sans', Arial, sans-serif" font-size="14" fill="#ff0000" stroke="#ff0000" stroke-width="0.3" text-anchor="middle">1</text>
<text x="199.6" y="138.6" font-family="'Liberation Sans', Arial, sans-serif" font-size="14" fill="#ff0000" stroke="#ff0000" stroke-width="0.3" text-anchor="middle">2</text>
<text x="223.5" y="138.6" font-family="'Liberation Sans', Arial, sans-serif" font-size="14" fill="#ff0000" stroke="#ff0000" stroke-width="0.3" text-anchor="middle">3</text>
</svg>
</body></html>
